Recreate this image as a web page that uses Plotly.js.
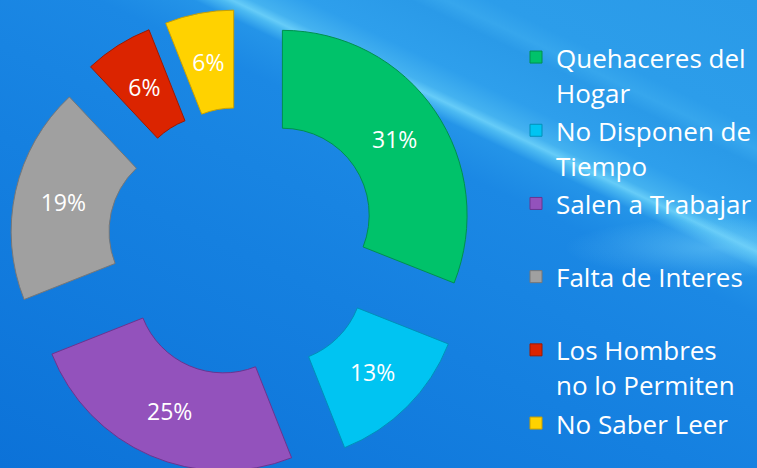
<!DOCTYPE html>
<html>
<head>
<meta charset="utf-8">
<script src="https://cdn.plot.ly/plotly-3.0.1.min.js"></script>
<style>
  html, body { margin: 0; padding: 0; }
  body {
    width: 757px; height: 468px; overflow: hidden;
    background:
      radial-gradient(ellipse 150px 30px at 715px 248px, rgba(120,210,250,0.45), rgba(120,210,250,0) 100%),
      linear-gradient(25.6deg, #0c72d8 0%, #1580e0 40%, #1b88e4 62%, #2494e8 67.5%, #4cbaf2 69.1%, #66ccf8 69.7%, #44b2f0 70.8%, #2e9fec 74%, #2a9ae8 80%, #36a6ed 82%, #2c9dea 84.5%, #2a9ae8 100%);
  }
  #chart { width: 757px; height: 475px; }
</style>
</head>
<body>
<div id="chart"></div>
<script>
// Data
var categories = [
  "Quehaceres del Hogar",
  "No Disponen de Tiempo",
  "Salen a Trabajar",
  "Falta de Interes",
  "Los Hombres no lo Permiten",
  "No Saber Leer"
];
var legendLines = [
  ["Quehaceres del", "Hogar"],
  ["No Disponen de", "Tiempo"],
  ["Salen a Trabajar"],
  ["Falta de Interes"],
  ["Los Hombres", "no lo Permiten"],
  ["No Saber Leer"]
];
var values = [31, 13, 25, 19, 6, 6];
var colors = ["#00C26A", "#00C4F2", "#9352BC", "#A0A0A0", "#DB2400", "#FFD200"];
var edgeColors = ["#00904E", "#0090B8", "#6A3590", "#777777", "#A01800", "#C9A000"];

// Legend labels: every entry (except the last) takes two lines
var span = function (t) { return '<span style="font-size:26px">' + t + '</span>'; };
var labels = legendLines.map(function (lines, i) {
  var ls = lines.slice();
  if (ls.length < 2 && i < legendLines.length - 1) ls.push('&nbsp;');
  return ls.map(span).join('<br>');
});

// Geometry (pixels)
var W = 757, H = 475, TOP = 9;
var cx = 243, cy = 242;          // pie centre
var PULL = 0.26, HOLE = 0.47;
var D1 = 466;                    // domain size of main pie
var r1 = D1 / (2 * (1 + PULL));
// overlay pie used only to place labels of narrow slices at mid-ring
var K = 0.87;
var pull2 = PULL / K;
var D2 = 2 * r1 * (K + PULL);
var plotH = H - TOP;
function dom(size) {
  var off = ((H - cy) - plotH / 2) / plotH;
  return {
    x: [(cx - size / 2) / W, (cx + size / 2) / W],
    y: [0.5 - size / 2 / plotH + off, 0.5 + size / 2 / plotH + off]
  };
}
var narrow = values.map(function (v) { return v < 10; });

var trace = {
  type: 'pie',
  labels: labels,
  values: values,
  sort: false,
  direction: 'clockwise',
  rotation: 0,
  hole: HOLE,
  pull: PULL,
  marker: { colors: colors, line: { color: edgeColors, width: 1 } },
  texttemplate: '%{value}%',
  textposition: narrow.map(function (n) { return n ? 'none' : 'inside'; }),
  insidetextorientation: 'horizontal',
  textfont: { family: 'Open Sans', size: 23, color: '#ffffff' },
  domain: dom(D1),
  hoverinfo: 'skip'
};

var labelTrace = {
  type: 'pie',
  labels: labels,
  values: values,
  sort: false,
  direction: 'clockwise',
  rotation: 0,
  hole: HOLE,
  pull: pull2,
  showlegend: false,
  marker: { colors: values.map(function () { return 'rgba(0,0,0,0)'; }), line: { width: 0 } },
  texttemplate: '%{value}%',
  textposition: narrow.map(function (n) { return n ? 'inside' : 'none'; }),
  insidetextorientation: 'horizontal',
  textfont: { family: 'Open Sans', size: 23, color: '#ffffff' },
  domain: dom(D2),
  hoverinfo: 'skip'
};

var layout = {
  width: W,
  height: H,
  margin: { l: 0, r: 0, t: TOP, b: 0 },
  paper_bgcolor: 'rgba(0,0,0,0)',
  plot_bgcolor: 'rgba(0,0,0,0)',
  showlegend: true,
  legend: {
    x: 517 / 757,
    xanchor: 'left',
    y: 1 - 24 / 466,
    yanchor: 'top',
    valign: 'top',
    bgcolor: 'rgba(0,0,0,0)',
    borderwidth: 0,
    font: { family: 'Open Sans', size: 27, color: '#ffffff' },
    traceorder: 'normal'
  }
};

Plotly.newPlot('chart', [trace, labelTrace], layout, { displayModeBar: false, staticPlot: true });
</script>
</body>
</html>
